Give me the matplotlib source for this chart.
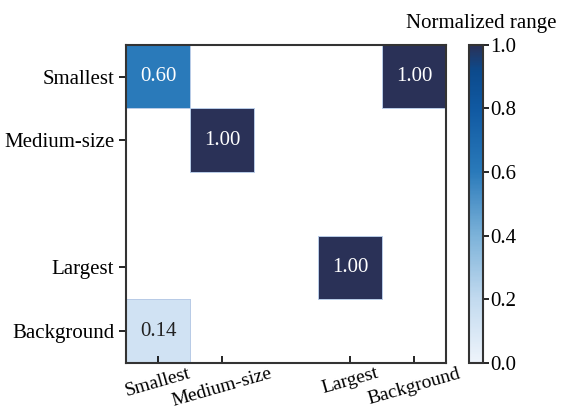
import matplotlib.pyplot as plt
import numpy as np
from matplotlib.colors import LinearSegmentedColormap, Normalize, to_rgba

plt.rcParams['font.family'] = ['Liberation Serif', 'DejaVu Serif']
plt.rcParams['font.size'] = 15

# grid categories (the middle slot carries no label)
row_labels = ['Smallest', 'Medium-size', '', 'Largest', 'Background']
col_labels = ['Smallest', 'Medium-size', '', 'Largest', 'Background']

# normalized range per cell, NaN where nothing is shown
values = np.array([
    [0.60, np.nan, np.nan, np.nan, 1.00],
    [np.nan, 1.00, np.nan, np.nan, np.nan],
    [np.nan, np.nan, np.nan, np.nan, np.nan],
    [np.nan, np.nan, np.nan, 1.00, np.nan],
    [0.14, np.nan, np.nan, np.nan, np.nan],
])
cbar_ticks = [0.0, 0.2, 0.4, 0.6, 0.8, 1.0]

cmap = LinearSegmentedColormap.from_list('blues_navy', [
    (0.00, '#eef4fb'),
    (0.20, '#c2daef'),
    (0.40, '#7cb2d9'),
    (0.60, '#2a7aba'),
    (0.80, '#1059a2'),
    (0.92, '#0c4a8c'),
    (1.00, '#2a3157'),
])
norm = Normalize(0, 1)

fig = plt.figure(figsize=(5.63, 4.11), dpi=100)
ax = fig.add_axes([0.224, 0.117, 0.568, 0.774])
cax = fig.add_axes([0.833, 0.117, 0.025, 0.774])

nrow, ncol = values.shape
masked = np.ma.masked_invalid(values)
mesh = ax.pcolormesh(np.arange(ncol + 1) - 0.5, np.arange(nrow + 1) - 0.5,
                     masked, cmap=cmap, norm=norm, linewidth=0.7)
# outline only the filled cells
edge = np.array([to_rgba('#b8cbe6') if not m else (0, 0, 0, 0)
                 for m in np.ma.getmaskarray(masked).ravel()])
mesh.set_edgecolor(edge)
ax.set_xlim(-0.5, ncol - 0.5)
ax.set_ylim(nrow - 0.5, -0.5)

for i in range(nrow):
    for j in range(ncol):
        v = values[i, j]
        if np.isnan(v):
            continue
        ax.text(j, i, f'{v:.2f}', ha='center', va='center', fontsize=15,
                color='white' if v > 0.5 else '#222222')

xt = [j for j, s in enumerate(col_labels) if s]
yt = [i for i, s in enumerate(row_labels) if s]
ax.set_xticks(xt)
ax.set_xticklabels([col_labels[j] for j in xt], rotation=16, ha='center',
                   fontsize=14)
ax.set_yticks(yt)
ax.set_yticklabels([row_labels[i] for i in yt])
ax.tick_params(axis='x', direction='in', length=5, width=1.2, pad=1.5)
ax.tick_params(axis='y', direction='out', length=5, width=1.2)
for sp in ax.spines.values():
    sp.set_linewidth(1.5)
    sp.set_color('#333333')

cb = fig.colorbar(mesh, cax=cax, ticks=cbar_ticks)
cb.ax.set_yticklabels([f'{t:.1f}' for t in cbar_ticks])
cb.ax.tick_params(direction='out', length=4, width=1.2, pad=1)
cb.outline.set_linewidth(1.5)
cb.outline.set_edgecolor('#333333')
cax.text(0.9, 1.0 + 17 / 318, 'Normalized range', transform=cax.transAxes,
         ha='center', va='baseline', fontsize=15)

fig.savefig('out.png', dpi=100)
